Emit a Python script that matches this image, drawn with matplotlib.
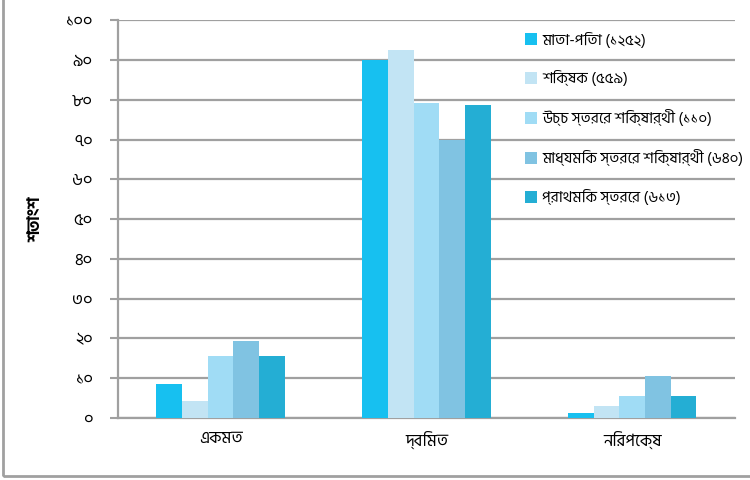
import matplotlib
matplotlib.use("Agg")
import matplotlib.pyplot as plt
import numpy as np
from matplotlib.patches import Rectangle

plt.rcParams["font.family"] = ["Hind Siliguri", "Lohit Bengali", "DejaVu Sans"]

# data
categories = ["একমত", "দ্বিমত", "নিরপেক্ষ"]
series = ["মাতা-পিতা (১২৫২)", "শিক্ষক (৫৫৯)", "উচ্চ স্তরের শিক্ষার্থী (১১০)",
          "মাধ্যমিক স্তরের শিক্ষার্থী (৬৪০)", "প্রাথমিক স্তরের (৬১৩)"]
values = [
    [8.5, 90.0, 1.3],
    [4.3, 92.5, 3.0],
    [15.6, 79.2, 5.5],
    [19.4, 70.0, 10.5],
    [15.6, 78.7, 5.5],
]
colors = ["#17c0f0", "#c2e4f4", "#a0dcf5", "#80c3e2", "#24aed4"]
yticks = [0, 10, 20, 30, 40, 50, 60, 70, 80, 90, 100]
ytick_labels = ["০", "১০", "২০", "৩০", "৪০", "৫০", "৬০", "৭০", "৮০", "৯০", "১০০"]

fig = plt.figure(figsize=(7.5, 4.8), dpi=100)
ax = fig.add_axes([0.157, 0.129, 0.823, 0.829])

x = np.arange(len(categories))
w = 0.125
for i, (vals, c, name) in enumerate(zip(values, colors, series)):
    ax.bar(x + (i - 2) * w, vals, width=w, color=c, label=name, zorder=3)

ax.set_xlim(-0.5, 2.5)
ax.set_ylim(0, 100)
ax.set_yticks(yticks)
ax.set_yticklabels(ytick_labels, fontsize=12)
ax.set_xticks(x)
ax.set_xticklabels(categories, fontsize=12)
ax.tick_params(axis="x", length=0, pad=9)
ax.tick_params(axis="y", length=6, width=1.5, color="#a0a0a0", pad=12)
ax.grid(True, axis="y", color="#a0a0a0", linewidth=1.6, zorder=0)
for s in ["top", "right"]:
    ax.spines[s].set_visible(False)
for s in ["left", "bottom"]:
    ax.spines[s].set_color("#a0a0a0")
    ax.spines[s].set_linewidth(1.6)
ax.set_ylabel("শতাংশ", fontsize=12, fontweight="bold", labelpad=16)

fig.legend(loc="upper left", bbox_to_anchor=(0.692, 0.947), frameon=False,
           handlelength=0.8, handleheight=0.8, handletextpad=0.3,
           labelspacing=1.5, fontsize=11, borderaxespad=0)

fig.add_artist(Rectangle((0.004, 0.008), 1.2, 1.2, transform=fig.transFigure,
                         fill=False, edgecolor="#a0a0a0", linewidth=2))

fig.savefig("out.png", dpi=100)
